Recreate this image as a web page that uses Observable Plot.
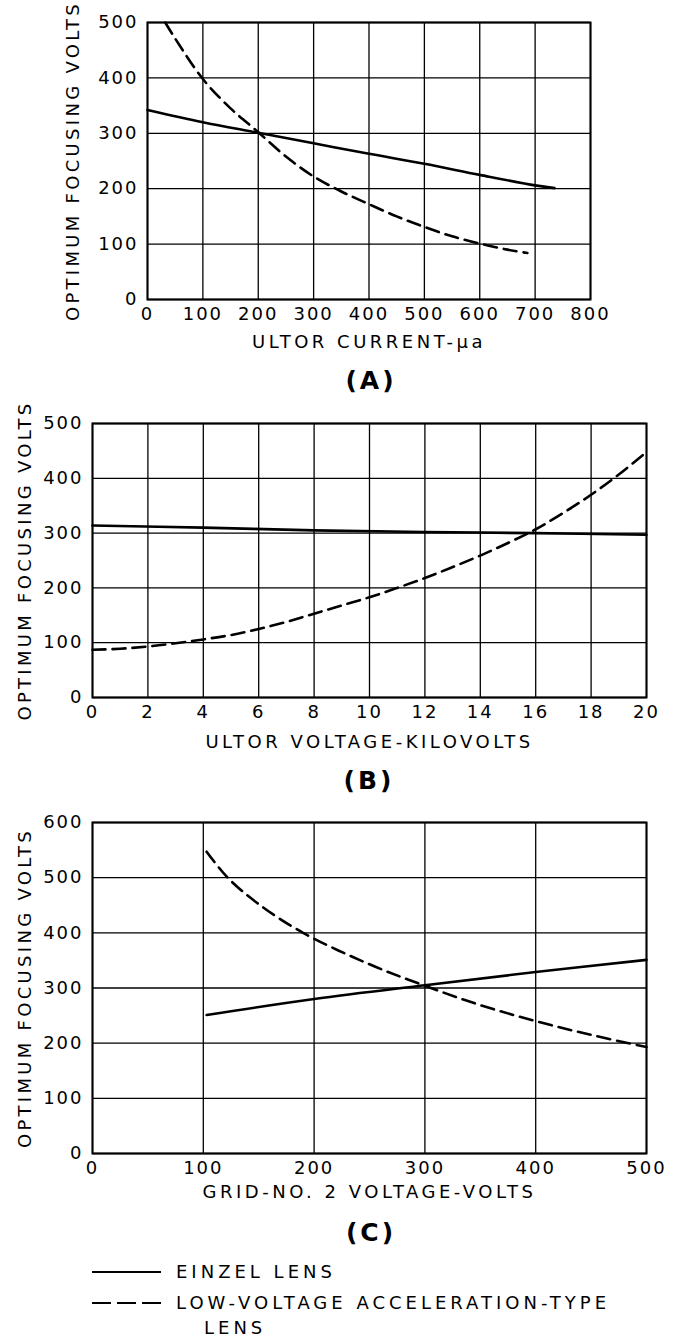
<!DOCTYPE html>
<html>
<head>
<meta charset="utf-8">
<script src="https://cdn.jsdelivr.net/npm/d3@7"></script>
<script src="https://cdn.jsdelivr.net/npm/@observablehq/plot@0.6"></script>
<style>
  html, body { margin: 0; padding: 0; background: white; }
  #wrap { position: relative; width: 679px; height: 1339px; font-family: "DejaVu Sans", sans-serif; color: black; }
  .panel { position: absolute; left: 0; }
  .cap { position: absolute; width: 200px; text-align: center; font-size: 25px; font-weight: bold; letter-spacing: 3px; line-height: 1; }
  .leg { position: absolute; font-size: 18px; letter-spacing: 4px; line-height: 1; white-space: nowrap; }
  .legline { position: absolute; }
</style>
</head>
<body>
<div id="wrap"></div>
<script>
// ---------- DATA ----------
// Panel A: optimum focusing volts vs ultor current (µa)
const aEinzelX = [0, 100, 200, 300, 400, 500, 600, 700, 735];
const aEinzelY = [342, 320, 301, 282, 263, 245, 225, 206, 201];
const aAccelX  = [32, 50, 100, 150, 200, 250, 300, 350, 400, 450, 500, 550, 600, 650, 686];
const aAccelY  = [500, 471, 398, 345, 302, 258, 222, 195, 172, 150, 131, 114, 101, 90, 84];
const aXTicks  = [0, 100, 200, 300, 400, 500, 600, 700, 800];
const aYTicks  = [0, 100, 200, 300, 400, 500];

// Panel B: optimum focusing volts vs ultor voltage (kilovolts)
const bEinzelX = [0, 4, 8, 12, 16, 20];
const bEinzelY = [314, 310, 305, 302, 300, 297];
const bAccelX  = [0, 1, 2, 3, 4, 5, 6, 7, 8, 9, 10, 11, 12, 13, 14, 15, 16, 17, 18, 19, 20];
const bAccelY  = [87, 89, 93, 99, 106, 114, 125, 138, 153, 168, 183, 200, 218, 238, 259, 282, 307, 337, 370, 407, 448];
const bXTicks  = [0, 2, 4, 6, 8, 10, 12, 14, 16, 18, 20];
const bYTicks  = [0, 100, 200, 300, 400, 500];

// Panel C: optimum focusing volts vs grid-no. 2 voltage (volts)
const cEinzelX = [103, 200, 300, 400, 500];
const cEinzelY = [251, 280, 305, 329, 351];
const cAccelX  = [103, 122, 150, 190, 250, 300, 350, 400, 450, 500];
const cAccelY  = [547, 500, 452, 400, 343, 304, 269, 240, 215, 193];
const cXTicks  = [0, 100, 200, 300, 400, 500];
const cYTicks  = [0, 100, 200, 300, 400, 500, 600];

const yLabel = "OPTIMUM FOCUSING VOLTS";
const xLabels = ["ULTOR CURRENT-\u03bca", "ULTOR VOLTAGE-KILOVOLTS", "GRID-NO. 2 VOLTAGE-VOLTS"];
const panelTags = ["(A)", "(B)", "(C)"];
const seriesNames = ["EINZEL LENS", "LOW-VOLTAGE ACCELERATION-TYPE", "LENS"];

// ---------- HELPERS ----------
const FONT = "DejaVu Sans, sans-serif";
const zip = (xs, ys) => xs.map((x, i) => ({x, y: ys[i]}));

function panel({xs1, ys1, xs2, ys2, xTicks, yTicks, xDomain, yDomain, xLabel, height, margins, top, xLabelDy, yLabelDx}) {
  const chart = Plot.plot({
    width: 679,
    height,
    marginTop: margins[0], marginRight: margins[1], marginBottom: margins[2], marginLeft: margins[3],
    x: {domain: xDomain},
    y: {domain: yDomain},
    style: {fontFamily: FONT, fontSize: "18px", color: "black", background: "transparent", overflow: "visible", letterSpacing: "2px"},
    marks: [
      Plot.gridX(xTicks, {stroke: "black", strokeOpacity: 1, strokeWidth: 1.3}),
      Plot.gridY(yTicks, {stroke: "black", strokeOpacity: 1, strokeWidth: 1.3}),
      Plot.frame({stroke: "black", strokeWidth: 2}),
      Plot.axisX({ticks: xTicks, tickSize: 0, tickPadding: 8, fontSize: 18, tickFormat: d => String(d), label: null}),
      Plot.axisY({ticks: yTicks, tickSize: 0, tickPadding: 9, fontSize: 18, tickFormat: d => String(d), label: null}),
      Plot.text([xLabel], {text: d => d, frameAnchor: "bottom", dy: xLabelDy, fontSize: 18, fill: "black", textAnchor: "middle"}),
      Plot.text([yLabel], {text: d => d, frameAnchor: "left", dx: yLabelDx, rotate: -90, fontSize: 18, fill: "black", textAnchor: "middle", lineAnchor: "middle"}),
      Plot.line(zip(xs1, ys1), {x: "x", y: "y", stroke: "black", strokeWidth: 2.6, curve: "catmull-rom"}),
      Plot.line(zip(xs2, ys2), {x: "x", y: "y", stroke: "black", strokeWidth: 2.6, curve: "catmull-rom", strokeDasharray: "13,7"})
    ]
  });
  // wider spacing on the axis titles, as in the lettered original
  d3.select(chart).selectAll("g[aria-label='text'] text")
    .attr("letter-spacing", function() { return this.textContent === xLabel ? "3.5px" : "3.3px"; });
  const div = document.createElement("div");
  div.className = "panel";
  div.style.top = top + "px";
  div.appendChild(chart);
  document.getElementById("wrap").appendChild(div);
}

function cap(text, cx, cy) {
  const d = document.createElement("div");
  d.className = "cap";
  d.textContent = text;
  d.style.left = (cx - 100) + "px";
  d.style.top = (cy - 13) + "px";
  document.getElementById("wrap").appendChild(d);
}

// ---------- PANELS ----------
panel({xs1: aEinzelX, ys1: aEinzelY, xs2: aAccelX, ys2: aAccelY, xTicks: aXTicks, yTicks: aYTicks,
       xDomain: [0, 800], yDomain: [0, 500], xLabel: xLabels[0],
       height: 360, margins: [22, 89, 61, 147], top: 0, xLabelDy: 48, yLabelDx: -74});
cap(panelTags[0], 371, 381);

panel({xs1: bEinzelX, ys1: bEinzelY, xs2: bAccelX, ys2: bAccelY, xTicks: bXTicks, yTicks: bYTicks,
       xDomain: [0, 20], yDomain: [0, 500], xLabel: xLabels[1],
       height: 360, margins: [23, 33, 63, 92], top: 400, xLabelDy: 50, yLabelDx: -67});
cap(panelTags[1], 369, 781);

panel({xs1: cEinzelX, ys1: cEinzelY, xs2: cAccelX, ys2: cAccelY, xTicks: cXTicks, yTicks: cYTicks,
       xDomain: [0, 500], yDomain: [0, 600], xLabel: xLabels[2],
       height: 420, margins: [22, 33, 67, 92], top: 800, xLabelDy: 44, yLabelDx: -67});
cap(panelTags[2], 371, 1233);

// ---------- LEGEND ----------
const wrap = document.getElementById("wrap");
function legLine(y, dash) {
  const ns = "http://www.w3.org/2000/svg";
  const s = document.createElementNS(ns, "svg");
  s.setAttribute("width", 80); s.setAttribute("height", 6);
  s.setAttribute("class", "legline");
  s.style.left = "90px"; s.style.top = (y - 3) + "px";
  const l = document.createElementNS(ns, "line");
  l.setAttribute("x1", 2); l.setAttribute("x2", 71); l.setAttribute("y1", 3); l.setAttribute("y2", 3);
  l.setAttribute("stroke", "black"); l.setAttribute("stroke-width", 2);
  if (dash) l.setAttribute("stroke-dasharray", dash);
  s.appendChild(l);
  wrap.appendChild(s);
}
function legText(t, x, cy) {
  const d = document.createElement("div");
  d.className = "leg";
  d.textContent = t;
  d.style.left = x + "px";
  d.style.top = (cy - 9) + "px";
  wrap.appendChild(d);
}
legLine(1272, null);
legText(seriesNames[0], 176, 1272);
legLine(1303, "19,6");
legText(seriesNames[1], 176, 1303);
legText(seriesNames[2], 204, 1328);
</script>
</body>
</html>
